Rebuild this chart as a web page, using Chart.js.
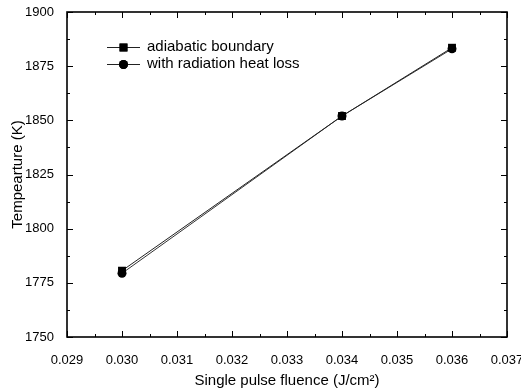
<!DOCTYPE html>
<html>
<head>
<meta charset="utf-8">
<script src="https://cdn.jsdelivr.net/npm/chart.js@4.4.1/dist/chart.umd.min.js"></script>
<style>
  html, body { margin: 0; padding: 0; background: #fff; }
  #wrap { width: 521px; height: 390px; }
</style>
</head>
<body>
<div id="wrap"><canvas id="chart"></canvas></div>
<script>
const fluence = [0.030, 0.034, 0.036];
const adiabatic = [1780.6, 1852, 1883.5];
const radiation = [1779.4, 1852, 1883];
const seriesLabels = ["adiabatic boundary", "with radiation heat loss"];

const FONT = "Arial, 'Liberation Sans', sans-serif";

const toPoints = (ys) => fluence.map((x, i) => ({ x: x, y: ys[i] }));

// frame with inward major/minor ticks on all four sides, plus the legend box
const framePlugin = {
  id: "frame",
  afterDraw(chart) {
    const { ctx, chartArea: a, scales } = chart;
    const xs = scales.x, ys = scales.y;
    ctx.save();
    ctx.strokeStyle = "#000";
    ctx.lineWidth = 1.6;
    ctx.strokeRect(a.left, a.top, a.right - a.left, a.bottom - a.top);

    ctx.lineWidth = 1;
    ctx.beginPath();
    for (let v = xs.min; v <= xs.max + 1e-9; v += 0.0005) {
      const px = Math.round(xs.getPixelForValue(v)) + 0.5;
      const major = Math.abs(Math.round(v * 1000) - v * 1000) < 1e-6;
      const len = major ? 6 : 3;
      ctx.moveTo(px, a.bottom); ctx.lineTo(px, a.bottom - len);
      ctx.moveTo(px, a.top); ctx.lineTo(px, a.top + len);
    }
    for (let v = ys.min; v <= ys.max + 1e-9; v += 12.5) {
      const py = Math.round(ys.getPixelForValue(v)) + 0.5;
      const len = v % 25 === 0 ? 6 : 3;
      ctx.moveTo(a.left, py); ctx.lineTo(a.left + len, py);
      ctx.moveTo(a.right, py); ctx.lineTo(a.right - len, py);
    }
    ctx.stroke();

    // legend
    ctx.font = "15px " + FONT;
    ctx.textBaseline = "middle";
    ctx.fillStyle = "#000";
    chart.data.datasets.forEach((ds, i) => {
      const y = 47 + i * 17;
      ctx.strokeStyle = "#222";
      ctx.lineWidth = 1;
      ctx.beginPath();
      ctx.moveTo(107, y + 0.5); ctx.lineTo(140, y + 0.5);
      ctx.stroke();
      Chart.helpers.drawPoint(ctx, {
        pointStyle: ds.pointStyle,
        radius: ds.pointRadius,
        rotation: 0,
        borderWidth: 0
      }, 123.5, y + 0.5);
      ctx.fillStyle = "#000";
      ctx.fill();
      ctx.fillText(ds.label, 147, y);
    });
    ctx.restore();
  }
};

new Chart(document.getElementById("chart"), {
  type: "scatter",
  data: {
    datasets: [
      {
        label: seriesLabels[0],
        data: toPoints(adiabatic),
        showLine: true,
        borderColor: "#222",
        borderWidth: 1,
        backgroundColor: "#000",
        pointStyle: "rect",
        pointRadius: 5.6,
        pointBorderWidth: 0
      },
      {
        label: seriesLabels[1],
        data: toPoints(radiation),
        showLine: true,
        borderColor: "#333",
        borderWidth: 1,
        backgroundColor: "#000",
        pointStyle: "circle",
        pointRadius: 4.5,
        pointBorderWidth: 0
      }
    ]
  },
  options: {
    responsive: true,
    maintainAspectRatio: false,
    animation: false,
    layout: { padding: { left: 0, right: 14, top: 12, bottom: 0 } },
    plugins: {
      legend: { display: false },
      tooltip: { enabled: false }
    },
    scales: {
      x: {
        type: "linear",
        min: 0.029,
        max: 0.037,
        grid: { display: false },
        border: { display: false },
        ticks: {
          stepSize: 0.001,
          padding: 8,
          color: "#000",
          font: { family: FONT, size: 13 },
          maxRotation: 0,
          callback: (v) => v.toFixed(3)
        },
        title: {
          display: true,
          text: "Single pulse fluence (J/cm²)",
          color: "#000",
          font: { family: FONT, size: 15 },
          padding: 0
        },
        afterFit(scale) {
          scale.height = 53;
          scale.paddingLeft = 0;
          scale.paddingRight = 0;
        }
      },
      y: {
        min: 1750,
        max: 1900,
        grid: { display: false },
        border: { display: false },
        ticks: {
          stepSize: 25,
          padding: 5,
          color: "#000",
          font: { family: FONT, size: 13 },
          callback: (v) => String(v)
        },
        title: {
          display: true,
          text: "Tempearture (K)",
          color: "#000",
          font: { family: FONT, size: 15 },
          padding: { top: 9 }
        },
        afterFit(scale) {
          scale.width = 67;
          scale.paddingTop = 0;
          scale.paddingBottom = 0;
        }
      }
    }
  },
  plugins: [framePlugin]
});
</script>
</body>
</html>
